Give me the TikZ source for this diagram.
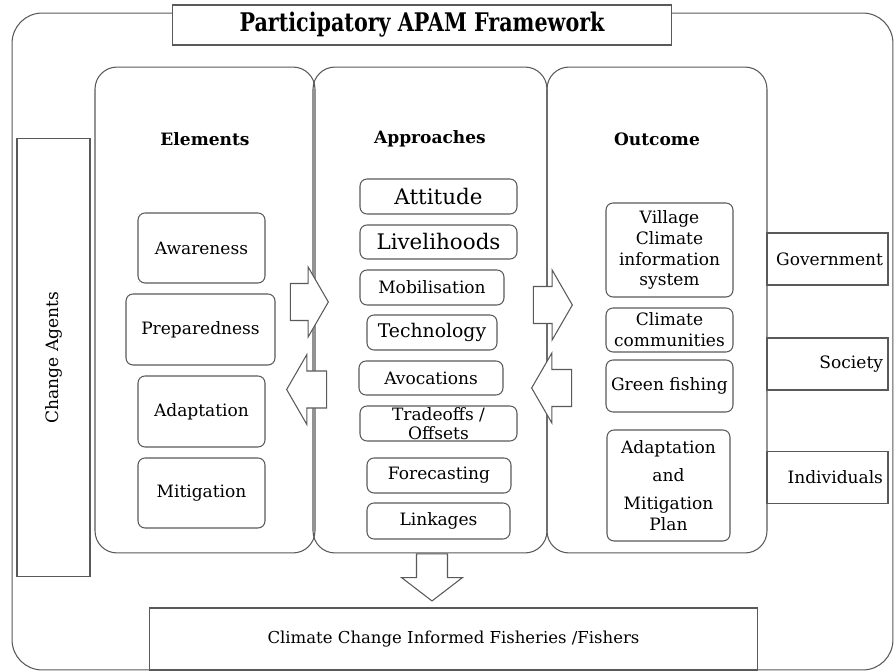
\documentclass[tikz,border=0pt]{standalone}
\usepackage{graphicx}
\usepackage{fontspec}
\setmainfont{DejaVu Serif}
\usetikzlibrary{shapes.arrows}

\tikzset{
  lines/.style={draw=black!65, line width=0.6pt},
  frame/.style={lines, rounded corners=0.6cm},
  panel/.style={lines, rounded corners=0.44cm, minimum height=9.72cm},
  item/.style={lines, rounded corners=0.14cm, align=center, inner sep=1pt},
  side/.style={lines, minimum width=2.42cm, minimum height=1.04cm, text width=2.22cm, align=right, inner sep=0pt},
  flow/.style={single arrow, lines, fill=white, inner xsep=0pt, inner ysep=0.36cm, minimum width=0pt,
    single arrow head extend=0.33cm, single arrow tip angle=120},
  big/.style={font=\fontsize{12.2}{14}\selectfont},
}

\begin{document}
\fontsize{9.7}{11.9}\selectfont
\begin{tikzpicture}[x=0.02cm, y=-0.02cm]
  \useasboundingbox (0,0) rectangle (894,672);
  \node[frame, minimum width=17.62cm, minimum height=13.14cm] (frame) at (452.5,341.5) {};
  \node[lines, fill=white, minimum width=10cm, minimum height=0.8cm] (title) at (422,25)
    {\resizebox{7.3cm}{0.39cm}{\bfseries Participatory APAM Framework}};
  \node[lines, rotate=90, minimum width=8.78cm, minimum height=1.46cm] (agents) at (53.5,357.5) {Change Agents};

  \node[panel, minimum width=4.4cm] (elements) at (205,310) {};
  \node[panel, minimum width=4.68cm] (approaches) at (430,310) {};
  \node[panel, minimum width=4.4cm] (outcome) at (657,310) {};
  \node[font=\bfseries] (elemhead) at (205,139) {Elements};
  \node[font=\bfseries] (apprhead) at (430,139) {Approaches};
  \node[font=\bfseries] (outhead) at (657,139) {Outcome};

  \node[item, minimum width=2.54cm, minimum height=1.4cm] (awareness) at (201.5,248) {Awareness};
  \node[item, minimum width=2.98cm, minimum height=1.42cm] (preparedness) at (200.5,329.5) {Preparedness};
  \node[item, minimum width=2.54cm, minimum height=1.42cm] (adaptation) at (201.5,411.5) {Adaptation};
  \node[item, minimum width=2.54cm, minimum height=1.4cm] (mitigation) at (201.5,493) {Mitigation};

  \node[item, big, minimum width=3.14cm, minimum height=0.7cm] (attitude) at (438.5,196.5) {Attitude};
  \node[item, big, minimum width=3.14cm, minimum height=0.68cm] (livelihoods) at (438.5,242) {Livelihoods};
  \node[item, minimum width=2.88cm, minimum height=0.7cm] (mobilisation) at (432,287.5) {Mobilisation};
  \node[item, font=\fontsize{10.7}{12}\selectfont, minimum width=2.6cm, minimum height=0.7cm] (technology) at (432,332.5) {Technology};
  \node[item, minimum width=2.88cm, minimum height=0.68cm] (avocations) at (431,378) {Avocations};
  \node[item, font=\fontsize{9.7}{11}\selectfont, inner sep=0pt, minimum width=3.14cm, minimum height=0.7cm] (tradeoffs) at (438.5,423.5) {Tradeoffs /\\Offsets};
  \node[item, minimum width=2.88cm, minimum height=0.7cm] (forecasting) at (439,475.5) {Forecasting};
  \node[item, minimum width=2.86cm, minimum height=0.72cm] (linkages) at (438.5,521) {Linkages};

  \node[item, minimum width=2.54cm, minimum height=1.88cm] (village) at (669.5,250) {Village\\Climate\\information\\system};
  \node[item, minimum width=2.54cm, minimum height=0.88cm] (communities) at (669.5,330) {Climate\\communities};
  \node[item, minimum width=2.54cm, minimum height=1.04cm] (green) at (669.5,386) {Green fishing};
  \node[item, minimum width=2.46cm, minimum height=2.22cm] (plan) at (668.5,485.5) {Adaptation\\[4pt]and\\[4pt]Mitigation\\Plan};

  \node[side] (government) at (827.5,259) {Government};
  \node[side] (society) at (827.5,364) {Society};
  \node[side] (individuals) at (827.5,477.5) {Individuals};

  \node[flow, minimum height=0.76cm] (toapproaches) at (304,302) {};
  \node[flow, shape border rotate=180, minimum height=0.8cm] (toelements) at (312,389.5) {};
  \node[flow, minimum height=0.78cm] (tooutcome) at (547.5,305) {};
  \node[flow, shape border rotate=180, minimum height=0.8cm] (fromoutcome) at (557,388) {};
  \node[flow, shape border rotate=270, inner xsep=0.3cm, inner ysep=0pt, single arrow head extend=0.3cm,
    single arrow tip angle=105, minimum height=0.94cm] (down) at (432,571.5) {};

  \node[lines, minimum width=12.18cm, minimum height=1.24cm] (informed) at (453.5,639)
    {\resizebox{7.44cm}{0.25cm}{Climate Change Informed Fisheries /Fishers}};
\end{tikzpicture}
\end{document}
